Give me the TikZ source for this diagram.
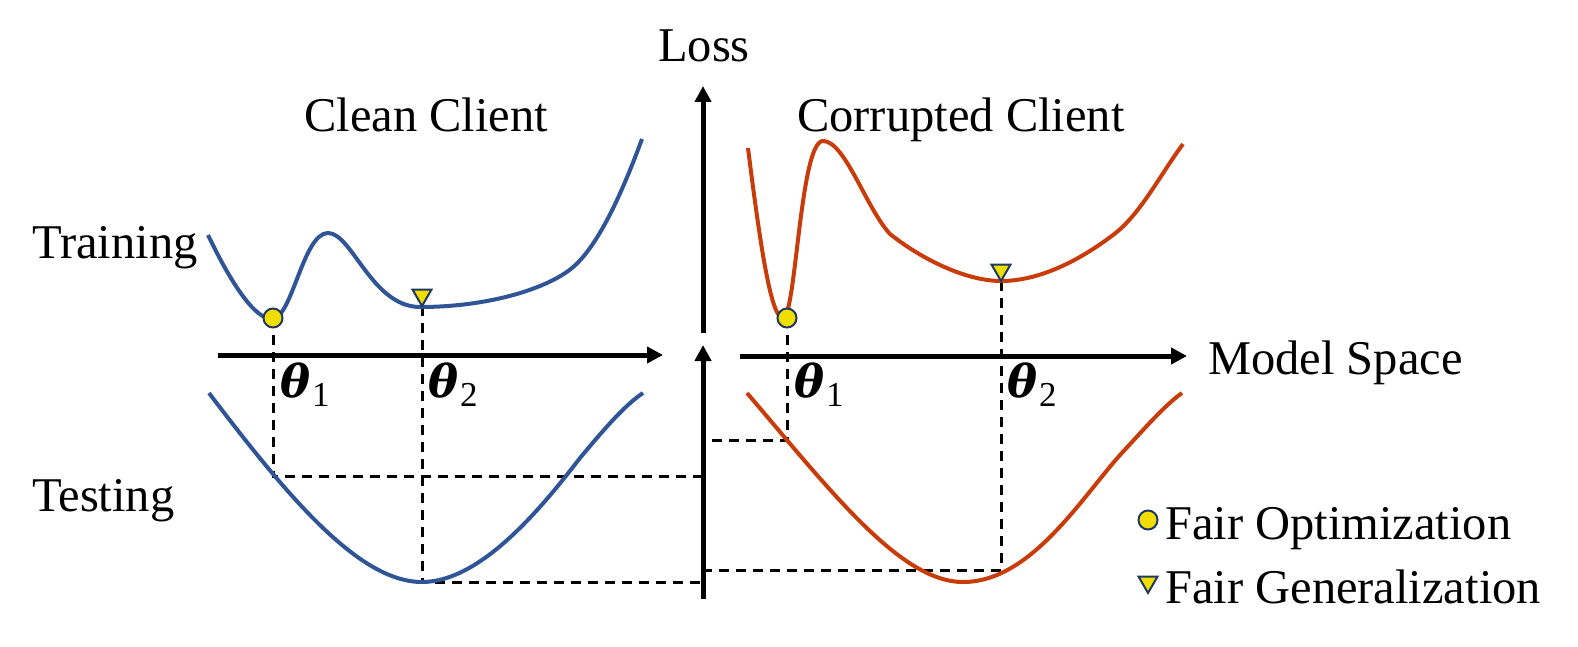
\documentclass[tikz,border=0pt]{standalone}
\usepackage{fontspec}
\setmainfont{Liberation Serif}
\newfontfamily\thfont{DejaVu Serif}
\usetikzlibrary{arrows.meta,shapes.geometric}
\definecolor{cblue}{RGB}{47,85,151}
\definecolor{cred}{RGB}{200,60,10}
\definecolor{myyellow}{RGB}{240,222,0}
\definecolor{mynavy}{RGB}{31,56,100}
\newcommand{\thsym}[1]{{\thfont\bfseries\itshape\fontsize{45}{52}\selectfont θ}\kern2pt\raisebox{-9pt}{\fontsize{35}{40}\selectfont #1}}
\begin{document}
\begin{tikzpicture}[x=1pt,y=-1pt,
 axis/.style={line width=5pt,-{Triangle[length=16pt,width=16pt]}},
 blueline/.style={cblue,line width=4pt},
 redline/.style={cred,line width=4pt},
 guide/.style={black,line width=3pt,dash pattern=on 10pt off 7pt},
 lbl/.style={font=\fontsize{48.5}{56}\selectfont,inner sep=0pt,anchor=base west},
 thlbl/.style={inner sep=0pt,anchor=base west},
 optmark/.style={circle,draw=mynavy,fill=myyellow,line width=2pt,minimum size=19pt,inner sep=0pt},
 genmark/.style={regular polygon,regular polygon sides=3,shape border rotate=180,draw=mynavy,fill=myyellow,line width=2pt,minimum size=22pt,inner sep=0pt}]
\useasboundingbox (0,0) rectangle (1578,647);

% key coordinates
\coordinate (c1) at (273,318);
\coordinate (c2) at (422,306);
\coordinate (c3) at (787,318);
\coordinate (c4) at (1001,281);
\coordinate (t1) at (273,476);
\coordinate (t2) at (422,582);
\coordinate (t3) at (787,440);
\coordinate (t4) at (1001,570);
\coordinate (a1) at (703,476);
\coordinate (a2) at (703,582);
\coordinate (a3) at (703,440);
\coordinate (a4) at (703,570);

% guide lines
\draw[guide] (c1) -- (t1) -- (a1);
\draw[guide] (c2) -- (t2) -- (a2);
\draw[guide] (c3) -- (t3) -- (a3);
\draw[guide] (c4) -- (t4) -- (a4);

% blue training curve
\draw[blueline] (208,235) .. controls (232,285) and (255,319) .. (272,319)
  .. controls (292,319) and (303,233) .. (328,233)
  .. controls (352,233) and (372,307) .. (420,307)
  .. controls (490,307) and (548,288) .. (572,268)
  .. controls (600,245) and (625,185) .. (642,139);
% blue testing curve
\draw[blueline] (209,393) .. controls (290,500) and (360,582) .. (422,582)
  .. controls (480,582) and (540,510) .. (580,458)
  .. controls (605,428) and (625,405) .. (643,393);
% red training curve
\draw[redline] (748,148) .. controls (762,260) and (772,318) .. (783,318)
  .. controls (796,318) and (800,141) .. (823,141)
  .. controls (845,141) and (866,208) .. (890,234)
  .. controls (920,258) and (965,281) .. (1001,281)
  .. controls (1040,281) and (1080,260) .. (1113,235)
  .. controls (1140,215) and (1160,175) .. (1183,144);
% red testing curve
\draw[redline] (747,393) .. controls (830,490) and (900,582) .. (963,582)
  .. controls (1030,582) and (1080,500) .. (1120,455)
  .. controls (1145,428) and (1165,405) .. (1182,393);

% axes
\coordinate (hl0) at (218,355);
\coordinate (hl1) at (663,355);
\coordinate (hr0) at (740,356);
\coordinate (hr1) at (1187,356);
\coordinate (vu0) at (703,333);
\coordinate (vu1) at (703,86);
\coordinate (vl0) at (703,599);
\coordinate (vl1) at (703,345);
\draw[axis] (hl0) -- (hl1);
\draw[axis] (hr0) -- (hr1);
\draw[axis] (vu0) -- (vu1);
\draw[axis] (vl0) -- (vl1);

% markers
\node[optmark] (m1) at (c1) {};
\node[optmark] (m3) at (c3) {};
\node[genmark] (m2) at (422,295) {};
\node[genmark] (m4) at (1001,270) {};

% labels
\node[lbl] (loss) at (658,62) {Loss};
\node[lbl] (clean) at (304,132) {Clean Client};
\node[lbl] (corr) at (797,132) {Corrupted Client};
\node[lbl] (train) at (32,258) {Training};
\node[lbl] (test) at (32,511) {Testing};
\node[lbl] (ms) at (1208,374) {Model Space};
\node[thlbl] (th1) at (280,397) {\thsym{1}};
\node[thlbl] (th2) at (428,397) {\thsym{2}};
\node[thlbl] (th3) at (794,397) {\thsym{1}};
\node[thlbl] (th4) at (1007,397) {\thsym{2}};

% legend
\node[optmark] (lg1) at (1148,520) {};
\node[genmark] (lg2) at (1148,582) {};
\node[lbl] (lt1) at (1165,539) {Fair Optimization};
\node[lbl] (lt2) at (1165,603) {Fair Generalization};
\end{tikzpicture}
\end{document}
